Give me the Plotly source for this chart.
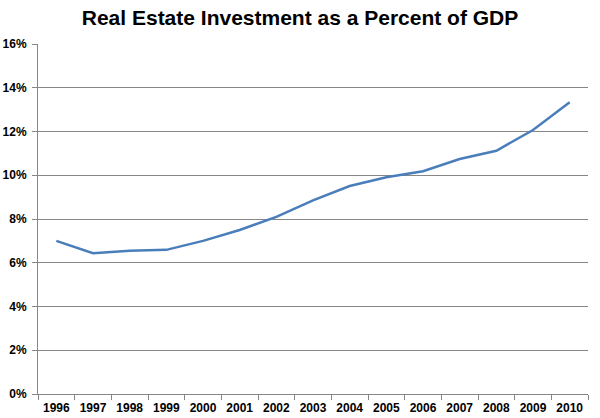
import plotly.graph_objects as go

years = ["1996", "1997", "1998", "1999", "2000", "2001", "2002", "2003",
         "2004", "2005", "2006", "2007", "2008", "2009", "2010"]
share = [0.070, 0.0644, 0.0655, 0.0659, 0.0700, 0.0750, 0.0810, 0.0885,
         0.0951, 0.0991, 0.1018, 0.1074, 0.1112, 0.1207, 0.1334]

fig = go.Figure(go.Scatter(
    x=years, y=share, mode="lines",
    line=dict(color="#4A7EBB", width=2.5),
    hoverinfo="skip",
))

fig.update_layout(
    width=600, height=418,
    margin=dict(l=38, r=12, t=44, b=24),
    paper_bgcolor="white", plot_bgcolor="white",
    showlegend=False,
    title=dict(text="<b>Real Estate Investment as a Percent of GDP</b>",
               x=0.5, xanchor="center", y=0.958, yanchor="middle",
               font=dict(family="Liberation Sans, Arial", size=21, color="black")),
    font=dict(family="Liberation Sans, Arial", size=12, color="black"),
)

fig.update_xaxes(
    type="category", range=[-0.5, 14.5], tickson="boundaries",
    showgrid=False, showline=True, linecolor="#868686", linewidth=1,
    ticks="outside", ticklen=5, tickcolor="#868686", automargin=False,
    ticklabelstandoff=3,
    tickfont=dict(family="Liberation Sans, Arial", size=12, color="black", weight="bold"),
)
fig.update_yaxes(
    range=[0, 0.16], dtick=0.02, tickformat=".0%",
    showgrid=True, gridcolor="#868686", gridwidth=1,
    showline=True, linecolor="#868686", linewidth=1, zeroline=False,
    ticks="outside", ticklen=5, tickcolor="#868686", automargin=False,
    ticklabelstandoff=3,
    tickfont=dict(family="Liberation Sans, Arial", size=12, color="black", weight="bold"),
)

fig.write_html("out.html", config={"displayModeBar": False, "staticPlot": True},
               post_script="document.body.style.margin='0';")
